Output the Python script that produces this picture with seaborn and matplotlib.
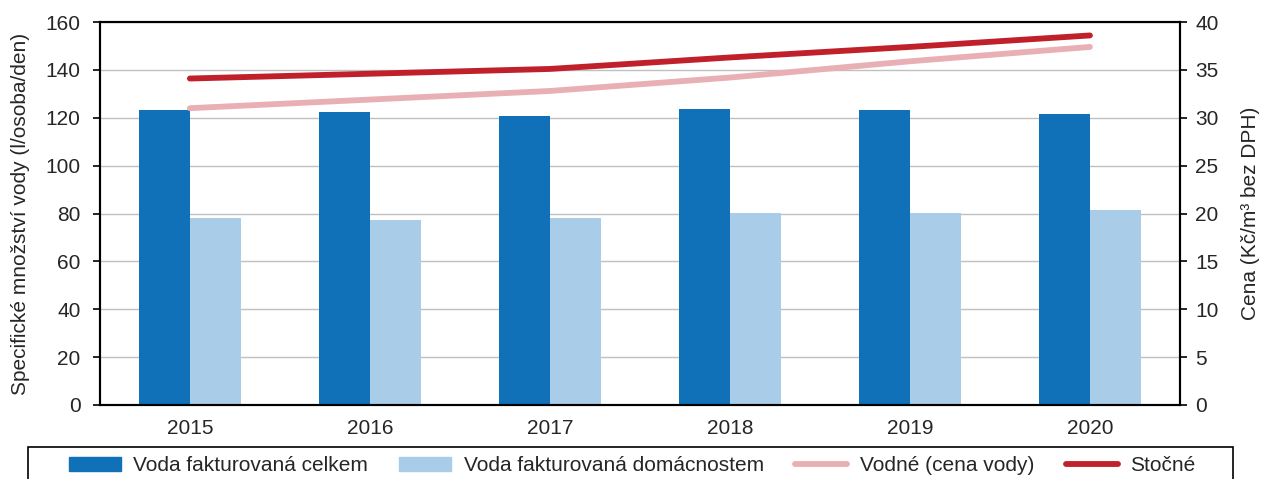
import pandas as pd
import numpy as np
import matplotlib
matplotlib.use("Agg")
import matplotlib.pyplot as plt
import seaborn as sns

# data
years = ["2015", "2016", "2017", "2018", "2019", "2020"]
voda_celkem = [123.1, 122.4, 120.7, 123.6, 123.2, 121.6]
voda_domacnosti = [78.0, 77.3, 78.0, 80.1, 80.2, 81.4]
vodne = [31.0, 31.9, 32.8, 34.2, 35.9, 37.4]
stocne = [34.1, 34.6, 35.1, 36.3, 37.4, 38.6]

lbl_celkem = "Voda fakturovaná celkem"
lbl_dom = "Voda fakturovaná domácnostem"
lbl_vodne = "Vodné (cena vody)"
lbl_stocne = "Stočné"

bars = pd.DataFrame({
    "rok": years * 2,
    "hodnota": voda_celkem + voda_domacnosti,
    "serie": [lbl_celkem] * len(years) + [lbl_dom] * len(years),
})

sns.set_style("white")
plt.rcParams["font.family"] = ["Liberation Sans", "DejaVu Sans"]
plt.rcParams["font.size"] = 15

fig, ax = plt.subplots(figsize=(12.64, 4.79), dpi=100)
fig.subplots_adjust(left=0.079, right=0.9335, top=0.954, bottom=0.1545)

sns.barplot(data=bars, x="rok", y="hodnota", hue="serie", ax=ax,
            palette=["#1070b8", "#a9cde8"], width=0.57, gap=0,
            saturation=1, linewidth=0, legend=False)
ax.set_ylim(0, 160)
ax.set_xlim(-0.5, len(years) - 0.5)
ax.set_yticks(range(0, 161, 20))
ax.set_xticks(range(len(years)))
ax.set_xticklabels(years)
ax.set_xticks(np.arange(-0.5, len(years)), minor=True)
ax.tick_params(axis="x", which="major", length=0, pad=10, labelsize=15)
ax.tick_params(axis="x", which="minor", length=5, width=1.2, direction="out", color="black")
ax.tick_params(axis="y", length=5, width=1.2, direction="out", color="black",
               labelsize=15, pad=9)
ax.set_xlabel("")
ax.set_ylabel("Specifické množství vody (l/osoba/den)", fontsize=15, labelpad=11)
ax.yaxis.grid(True, color="#c0c0c0", linewidth=1)
ax.set_axisbelow(True)
for s in ax.spines.values():
    s.set_color("black")
    s.set_linewidth(1.5)

ax2 = ax.twinx()
x = np.arange(len(years))
sns.lineplot(x=x, y=vodne, ax=ax2, color="#e8b0b4", linewidth=4.2,
             solid_capstyle="round")
sns.lineplot(x=x, y=stocne, ax=ax2, color="#c0202a", linewidth=4.2,
             solid_capstyle="round")
ax2.set_ylim(0, 40)
ax2.set_yticks(range(0, 41, 5))
ax2.tick_params(axis="y", length=5, width=1.2, direction="out", color="black",
                labelsize=15, pad=6)
ax2.set_ylabel("Cena (Kč/m³ bez DPH)", fontsize=15, labelpad=16)
ax2.grid(False)
for s in ax2.spines.values():
    s.set_color("black")
    s.set_linewidth(1.5)

# legend box drawn by hand so it can be wider than its content
fig.patches.append(plt.Rectangle((28 / 1264, -0.05), 1205 / 1264, 0.05 + 32 / 479,
                                 transform=fig.transFigure, fill=False,
                                 edgecolor="black", linewidth=1.2))
handles = [
    plt.Rectangle((0, 0), 1, 1, color="#1070b8"),
    plt.Rectangle((0, 0), 1, 1, color="#a9cde8"),
    plt.Line2D([0], [0], color="#e8b0b4", linewidth=4.2, solid_capstyle="round"),
    plt.Line2D([0], [0], color="#c0202a", linewidth=4.2, solid_capstyle="round"),
]
fig.legend(handles, [lbl_celkem, lbl_dom, lbl_vodne, lbl_stocne],
           loc="center", bbox_to_anchor=(0.5, 0.028), ncol=4,
           frameon=False, fontsize=15, handlelength=2.5, handleheight=0.7,
           handletextpad=0.6, columnspacing=1.5, borderpad=0.2)

fig.savefig("out.png", dpi=100)
